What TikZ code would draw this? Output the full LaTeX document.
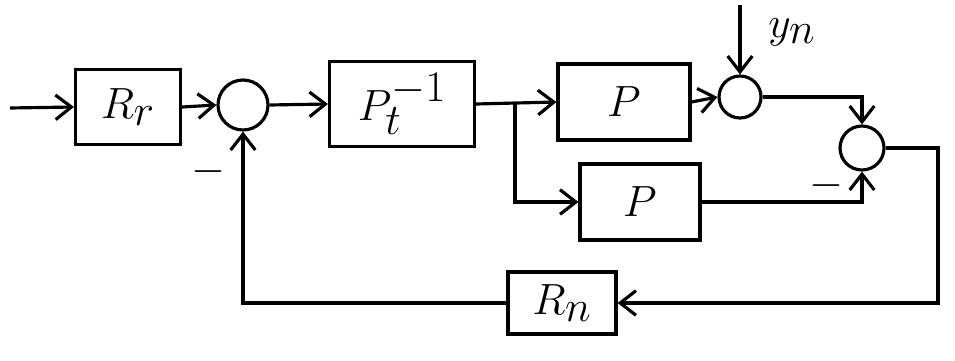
\documentclass[tikz,border=0pt]{standalone}
\usetikzlibrary{arrows.meta}
\begin{document}
\begin{tikzpicture}[x=0.02cm,y=-0.02cm,
  line width=1.8pt,
  blk/.style={draw,rectangle,inner sep=0pt,font=\fontsize{34}{40}\selectfont},
  sumc/.style={draw,circle,inner sep=0pt},
  sig/.style={-{Straight Barb[length=9pt,width=14pt,line width=1.8pt]}},
  lbl/.style={font=\fontsize{34}{40}\selectfont}]
\useasboundingbox (0,0) rectangle (955,361);
\coordinate (in) at (10,108);
\node[blk,minimum width=105*0.02cm,minimum height=75*0.02cm] (Rr) at (128,107) {$R_r$};
\node[sumc,minimum size=50*0.02cm] (s1) at (243,105) {};
\node[blk,minimum width=145*0.02cm,minimum height=85*0.02cm] (Pinv) at (402,104) {$P_t^{-1}$};
\node[blk,minimum width=132*0.02cm,minimum height=76*0.02cm] (P1) at (624,102) {$P$};
\node[sumc,minimum size=42*0.02cm] (s2) at (740,97) {};
\coordinate (yn) at (740,5);
\node[lbl] (ynl) at (792,32) {$y_n$};
\node[sumc,minimum size=44*0.02cm] (s3) at (862,148) {};
\node[blk,minimum width=120*0.02cm,minimum height=76*0.02cm] (P2) at (640,202) {$P$};
\node[blk,minimum width=108*0.02cm,minimum height=62*0.02cm] (Rn) at (562,303) {$R_n$};
\coordinate (br) at (515,102);
\coordinate (cr) at (938,148);
\node[lbl] (m1) at (208,172) {$-$};
\node[lbl] (m2) at (826,186) {$-$};

\draw[sig] (in) -- (Rr.west);
\draw[sig] (Rr.east) -- (s1.west);
\draw[sig] (s1.east) -- (Pinv.west);
\draw[sig] (Pinv.east) -- (P1.west);
\draw[sig] (br) |- (P2.west);
\draw[sig] (P1.east) -- (s2.west);
\draw[sig] (yn) -- (s2.north);
\draw[sig] (s2.east) -| (s3.north);
\draw[sig] (P2.east) -| (s3.south);
\draw[sig] (s3.east) -- (cr) |- (Rn.east);
\draw[sig] (Rn.west) -| (s1.south);
\end{tikzpicture}
\end{document}
